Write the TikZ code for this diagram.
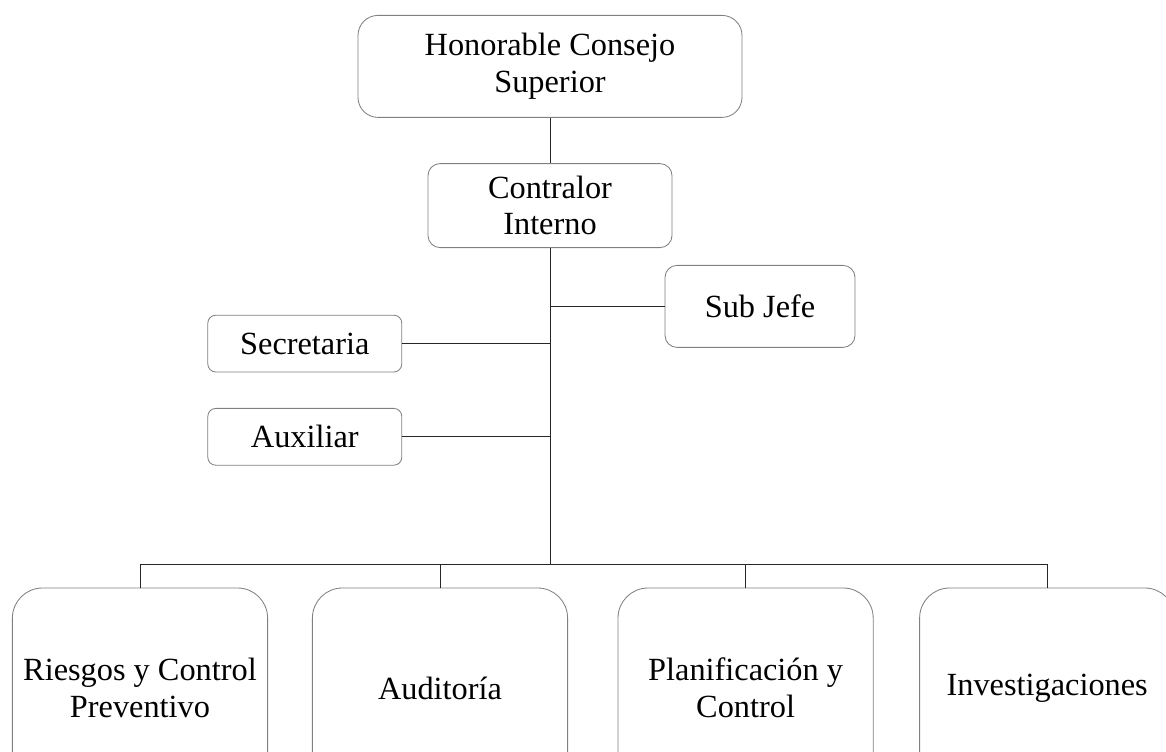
\documentclass[tikz,border=0pt]{standalone}
\usepackage{fontspec}
\setmainfont{Liberation Serif}

\begin{document}
\begin{tikzpicture}[
    box/.style={draw=black!50, line width=0.6pt, align=center, font=\fontsize{23}{26}\selectfont},
    link/.style={draw=black!85, line width=0.6pt}]
    \useasboundingbox (0,0) rectangle (29.15,-18.8);
    \clip (0,0) rectangle (29.15,-18.8);

    \node[box, rounded corners=0.5cm, minimum width=9.6cm, minimum height=2.55cm] (honorable) at (13.75,-1.66) {Honorable Consejo\\Superior};
    \node[box, rounded corners=0.3cm, minimum width=6.1cm, minimum height=2.1cm] (contralor) at (13.75,-5.14) {Contralor\\Interno};

    \node[box, rounded corners=0.3cm, minimum width=4.75cm, minimum height=2.05cm] (subjefe) at (19.0,-7.66) {Sub Jefe};
    \node[box, rounded corners=0.2cm, minimum width=4.85cm, minimum height=1.42cm] (secretaria) at (7.62,-8.59) {Secretaria};
    \node[box, rounded corners=0.2cm, minimum width=4.85cm, minimum height=1.42cm] (auxiliar) at (7.62,-10.92) {Auxiliar};

    \node[box, rounded corners=0.75cm, minimum width=6.38cm, minimum height=5cm] (riesgos) at (3.5,-17.2) {Riesgos y Control\\Preventivo};
    \node[box, rounded corners=0.75cm, minimum width=6.38cm, minimum height=5cm] (auditoria) at (11.0,-17.2) {Auditoría};
    \node[box, rounded corners=0.75cm, minimum width=6.38cm, minimum height=5cm] (planificacion) at (18.64,-17.2) {Planificación y\\Control};
    \node[box, rounded corners=0.75cm, minimum width=6.38cm, minimum height=5cm] (investigaciones) at (26.18,-17.2) {Investigaciones};

    \coordinate (bus) at (13.75,-14.1);

    \draw[link] (honorable.south) -- (contralor.north);
    \draw[link] (contralor.south) -- (bus);
    \draw[link] (subjefe.west) -- (subjefe.west -| contralor.south);
    \draw[link] (secretaria.east) -- (secretaria.east -| contralor.south);
    \draw[link] (auxiliar.east) -- (auxiliar.east -| contralor.south);

    \draw[link] (riesgos.north) |- (bus);
    \draw[link] (auditoria.north) |- (bus);
    \draw[link] (planificacion.north) |- (bus);
    \draw[link] (investigaciones.north) |- (bus);
\end{tikzpicture}
\end{document}
